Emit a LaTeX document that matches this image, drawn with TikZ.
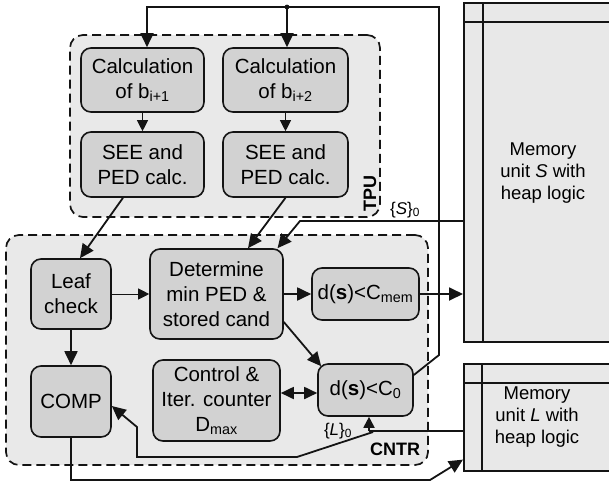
\documentclass[tikz,border=0pt]{standalone}
\usepackage{fontspec}
\setmainfont{Liberation Sans}
\usetikzlibrary{arrows.meta}
\definecolor{outerfill}{RGB}{233,233,233}
\definecolor{boxfill}{RGB}{210,210,210}
\definecolor{memfill}{RGB}{232,232,232}
\definecolor{ink}{RGB}{20,20,20}
\begin{document}
\begin{tikzpicture}[x=1pt,y=-1pt,
  tip/.style={-{Triangle[length=14pt,width=13pt]}},
  tiptwo/.style={{Triangle[length=13pt,width=12pt]}-{Triangle[length=13pt,width=12pt]}},
  smalltip/.style={-{Triangle[length=11pt,width=11pt]}},
  blk/.style={draw=ink, line width=1.6pt, fill=boxfill, rounded corners=10pt, align=center,
    font=\fontsize{20.5}{25}\selectfont, inner sep=0pt},
  grp/.style={draw=ink, dash pattern=on 9pt off 5pt, line width=1.7pt, fill=outerfill, rounded corners=13pt},
  mem/.style={draw=ink, line width=1.6pt, fill=memfill},
  memtxt/.style={align=center, font=\fontsize{18.5}{22}\selectfont},
  wire/.style={draw=ink, line width=1.8pt},
  thinwire/.style={draw=ink, line width=0.9pt},
  lbl/.style={font=\fontsize{17}{20}\selectfont},
  grplbl/.style={font=\fontsize{18}{20}\selectfont\bfseries},
]
\useasboundingbox (0,0) rectangle (609,482);
\clip (0,0) rectangle (609,482);

% groups
\node[grp, minimum width=310, minimum height=182] (tpu) at (225,126) {};
\node[grp, minimum width=422, minimum height=230] (cntr) at (217,350) {};
\node[grplbl, rotate=90] (tpulbl) at (370,193) {TPU};
\node[grplbl] (cntrlbl) at (395,449) {CNTR};

% memory units
\node[mem, minimum width=152, minimum height=339, anchor=north west] (memS) at (463,2) {};
\draw[line width=1.6pt, ink] ([xshift=20]memS.north west) -- ([xshift=20]memS.south west);
\draw[line width=1.6pt, ink] ([yshift=-20]memS.north west) -- ([yshift=-20]memS.north east);
\node[memtxt] (memStxt) at (543,173) {Memory\\unit \textit{S} with\\heap logic};
\node[mem, minimum width=152, minimum height=107, anchor=north west] (memL) at (463,363) {};
\draw[line width=1.6pt, ink] ([xshift=19]memL.north west) -- ([xshift=19]memL.south west);
\draw[line width=1.6pt, ink] ([yshift=-20]memL.north west) -- ([yshift=-20]memL.north east);
\node[memtxt] (memLtxt) at (537,417) {Memory\\unit \textit{L} with\\heap logic};

% blocks
\node[blk, minimum width=123, minimum height=64] (calc1) at (142.5,80) {Calculation\\of b\textsubscript{i+1}};
\node[blk, minimum width=125, minimum height=64] (calc2) at (285.5,80) {Calculation\\of b\textsubscript{i+2}};
\node[blk, minimum width=123, minimum height=65] (see1) at (142.5,164.5) {SEE and\\PED calc.};
\node[blk, minimum width=125, minimum height=65] (see2) at (285.5,164.5) {SEE and\\PED calc.};
\node[blk, minimum width=80, minimum height=70] (leaf) at (71,294) {Leaf\\check};
\node[blk, minimum width=133, minimum height=90] (det) at (216.5,294) {Determine\\min PED \&\\stored cand};
\node[blk, minimum width=107, minimum height=52] (cmem) at (365.5,294) {d(\textbf{s})<C\textsubscript{mem}};
\node[blk, minimum width=80, minimum height=71] (comp) at (71,401.5) {COMP};
\node[blk, minimum width=127, minimum height=81] (ctrl) at (216.5,400.5) {Control \&\\Iter. counter\\D\textsubscript{max}};
\node[blk, minimum width=95, minimum height=52] (c0) at (365.5,390) {d(\textbf{s})<C\textsubscript{0}};

% labels
\node[lbl] (slbl) at (405,210) {\{\textit{S}\}\textsubscript{0}};
\node[lbl] (llbl) at (338,431) {\{\textit{L}\}\textsubscript{0}};

% feedback loop
\coordinate (fb1) at (439,355);
\coordinate (fb2) at (439,7);
\coordinate (dot) at (287,7);
\coordinate (fb3) at (147,7);
\draw[wire, tip] ([yshift=15]c0.east) -- (fb1) -- (fb2) -- (fb3) -- ([xshift=4.5]calc1.north);
\draw[wire, tip] (dot) -- ([xshift=1.5]calc2.north);
\fill[ink] (dot) circle (2.4);

% TPU internal
\draw[thinwire, smalltip] (calc1) -- (see1);
\draw[thinwire, smalltip] (calc2) -- (see2);
\draw[wire, tip] ([xshift=-19.5]see1.south) -- ([xshift=9]leaf.north);
\draw[wire, tip] (see2.south) -- ([xshift=31.5]det.north);

% S from memory
\coordinate (s1) at (300,221);
\draw[wire, tip] (memS.west |- s1) -- (s1) -- ([xshift=61]det.north);

% CNTR internal
\draw[thinwire, smalltip] (leaf) -- (det);
\draw[wire, tip] (det) -- (cmem);
\draw[wire, tip] (cmem.east) -- (cmem.east -| memS.west);
\draw[wire, tip] (leaf) -- (comp);
\draw[wire, tip] ([yshift=-28]det.east) -- ([xshift=4,yshift=-3]c0.north west);
\coordinate (cc) at ([yshift=-3]c0.west);
\draw[wire, tiptwo] (cc -| ctrl.east) -- (cc);

% L from memory
\coordinate (l1) at (369,431);
\coordinate (l2) at (297,457);
\coordinate (l3) at (137,457);
\coordinate (l4) at (137,427);
\draw[wire] (memL.west |- l1) -- (l1);
\draw[wire, smalltip] (l1) -- (l1 |- c0.south);
\draw[wire, tip] ([xshift=4,yshift=-1]l1) -- (l2) -- (l3) -- (l4) -- ([yshift=-4.5]comp.east);

% COMP to memory L
\coordinate (m1) at (71,480);
\coordinate (m2) at (430,480);
\draw[wire, tip] (comp.south) -- (m1) -- (m2) -- ([yshift=12]memL.south west);
\end{tikzpicture}
\end{document}
